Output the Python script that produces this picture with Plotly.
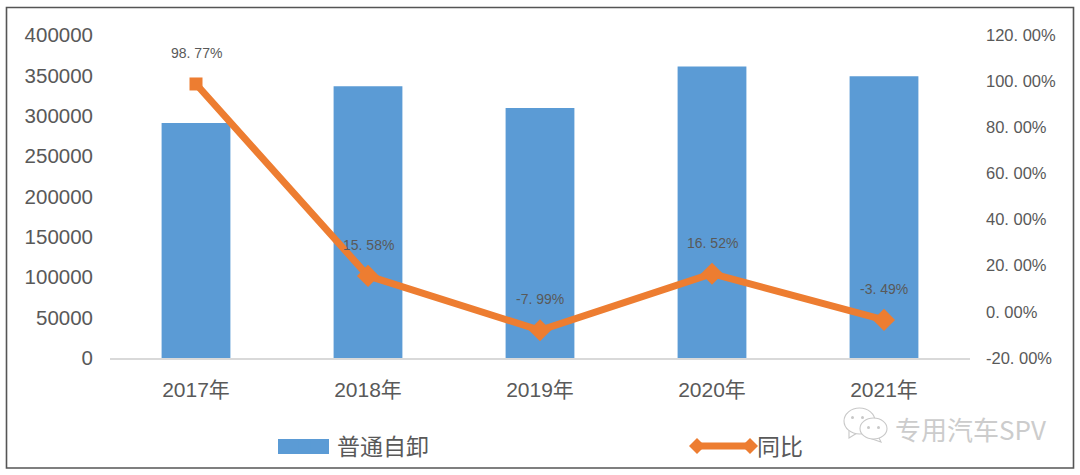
import plotly.graph_objects as go

years = ["2017年", "2018年", "2019年", "2020年", "2021年"]
volumes = [291000, 336500, 309500, 361000, 349000]
yoy = [98.77, 15.58, -7.99, 16.52, -3.49]
yoy_labels = ["98. 77%", "15. 58%", "-7. 99%", "16. 52%", "-3. 49%"]
left_ticks = [0, 50000, 100000, 150000, 200000, 250000, 300000, 350000, 400000]
right_ticks = [-20, 0, 20, 40, 60, 80, 100, 120]
right_tick_labels = ["-20. 00%", "0. 00%", "20. 00%", "40. 00%", "60. 00%", "80. 00%", "100. 00%", "120. 00%"]

GREY = "#595959"
BLUE = "#5B9BD5"
ORANGE = "#ED7D31"
SANS = "Liberation Sans, Noto Sans CJK SC"
CJK = "Noto Sans CJK SC"
MARK = "#C8C8C8"

fig = go.Figure()
fig.add_trace(go.Bar(x=years, y=volumes, name="普通自卸", marker=dict(color=BLUE, line=dict(width=0)),
                     width=0.4, legend="legend"))
fig.add_trace(go.Scatter(x=years, y=yoy, name="同比", yaxis="y2", mode="lines",
                         line=dict(color=ORANGE, width=7), legend="legend2"))
fig.add_trace(go.Scatter(x=years, y=yoy, yaxis="y2", mode="markers", showlegend=False,
                         marker=dict(symbol=["square", "diamond", "diamond", "diamond", "diamond"],
                                     size=[13, 17, 17, 17, 17], color=ORANGE, opacity=1,
                                     line=dict(width=0))))

annotations = [
    dict(x=c, y=v, xref="x", yref="y2", yshift=31, text=t, showarrow=False,
         font=dict(family=SANS, size=14, color=GREY))
    for c, v, t in zip(years, yoy, yoy_labels)
]

P_W, P_H = 860, 323  # plot-area pixels, used only for placing decorations in paper space
def px(x):
    return (x - 110) / P_W
def py(y):
    return (358 - y) / P_H
def poly(points, **kw):
    path = "M" + " L".join(f"{px(x):.5f},{py(y):.5f}" for x, y in points) + " Z"
    return dict(type="path", xref="paper", yref="paper", path=path, **kw)
def diamond(cx, cy, r):
    return poly([(cx - r, cy), (cx, cy - r), (cx + r, cy), (cx, cy + r)], fillcolor=ORANGE, line=dict(width=0))
def oval(x0, x1, y0, y1, **kw):
    return dict(type="circle", xref="paper", yref="paper", x0=px(x0), x1=px(x1), y0=py(y1), y1=py(y0), **kw)

annotations.append(dict(x=px(893), y=py(428), xref="paper", yref="paper", xanchor="left", yanchor="middle",
                        text="专用汽车SPV", showarrow=False, font=dict(family=CJK, size=26, color="#CCCCCC")))

shapes = [
    dict(type="rect", xref="paper", yref="paper", x0=px(6.5), x1=px(1073.5), y0=py(468), y1=py(7.5),
         line=dict(color="#555555", width=1.6), layer="below"),
    dict(type="rect", xref="paper", yref="paper", x0=px(278), x1=px(329), y0=py(454), y1=py(439),
         fillcolor=BLUE, line=dict(width=0)),
    diamond(697, 446, 8),
    diamond(750, 446, 8),
    poly([(849, 430), (849, 438), (857, 433)], fillcolor="white", line=dict(color=MARK, width=1.1)),
    oval(844, 875, 408, 434, fillcolor="white", line=dict(color=MARK, width=1.1)),
    poly([(878, 436), (881, 442), (872, 439)], fillcolor="white", line=dict(color=MARK, width=1.1)),
    oval(860, 887, 418, 439, fillcolor="white", line=dict(color=MARK, width=1.1)),
    oval(851, 854, 416, 419, fillcolor=MARK, line=dict(width=0)),
    oval(861, 864, 416, 419, fillcolor=MARK, line=dict(width=0)),
    oval(867, 870, 426, 429, fillcolor=MARK, line=dict(width=0)),
    oval(877, 880, 426, 429, fillcolor=MARK, line=dict(width=0)),
]

fig.update_layout(
    width=1080, height=475,
    margin=dict(l=110, r=110, t=35, b=117, autoexpand=False),
    paper_bgcolor="white", plot_bgcolor="white",
    font=dict(family=SANS, color=GREY),
    showlegend=True,
    legend=dict(x=px(272), y=py(446), xanchor="left", yanchor="middle", orientation="h",
                font=dict(family=CJK, size=23, color=GREY), itemwidth=55, bgcolor="rgba(0,0,0,0)"),
    legend2=dict(x=px(690), y=py(446), xanchor="left", yanchor="middle", orientation="h",
                 font=dict(family=CJK, size=23, color=GREY), itemwidth=57, bgcolor="rgba(0,0,0,0)"),
    xaxis=dict(showgrid=False, showline=True, linecolor="#D9D9D9", linewidth=2, ticks="",
               tickfont=dict(family=SANS, size=21, color=GREY), ticklabelstandoff=12),
    yaxis=dict(range=[0, 400000], tickvals=left_ticks, showgrid=False, zeroline=False, ticks="",
               tickformat="d", tickfont=dict(family=SANS, size=20.5, color=GREY), ticklabelstandoff=16),
    yaxis2=dict(range=[-20, 120], overlaying="y", side="right", tickvals=right_ticks,
                ticktext=right_tick_labels, showgrid=False, zeroline=False, ticks="",
                tickfont=dict(family=SANS, size=16.5, color=GREY), ticklabelstandoff=15),
    annotations=annotations,
    shapes=shapes,
)
fig.write_html("out.html", config=dict(displayModeBar=False),
               post_script="document.body.style.margin='0';document.body.style.overflow='hidden';")
